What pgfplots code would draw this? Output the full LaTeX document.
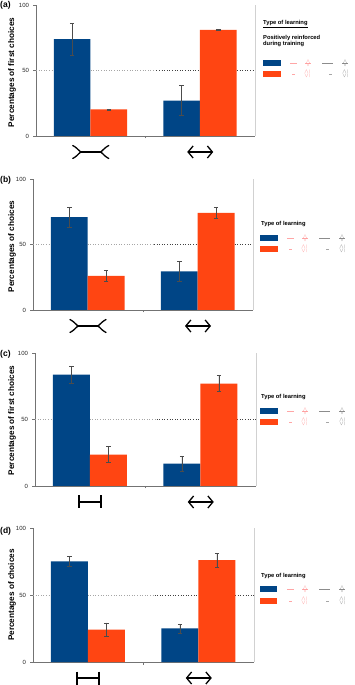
\documentclass[border=0pt]{standalone}
\usepackage{pgfplots}
\pgfplotsset{compat=1.18}
\usepackage{fontspec}
\setmainfont{Liberation Sans}
\usetikzlibrary{arrows.meta,calc}
\definecolor{myblue}{RGB}{0,69,134}
\definecolor{myorange}{RGB}{255,69,18}
\pgfplotsset{
  panel/.style={
    scale only axis, anchor=south west,
    xmin=0, xmax=2, ymin=0, ymax=100,
    axis x line*=bottom, axis y line*=left,
    axis line style={black!55, line width=0.6pt},
    ytick={0,50,100}, xtick={1}, xticklabels={},
    tick align=outside, major tick length=2.5pt,
    tick style={black!55, line width=0.5pt},
    yticklabel style={font=\fontsize{6}{7}\selectfont, text=black!85, xshift=-1pt},
    /pgf/number format/assume math mode=true,
    every axis y label/.style={at={(axis description cs:0,0.5)}, rotate=90, anchor=center,
       font=\bfseries\fontsize{8.2}{9}\selectfont},
    clip=false,
    ybar, bar width=0.335,
  },
  bl/.style={fill=myblue, draw=none, bar shift=0pt,
    error bars/.cd, y dir=both, y explicit,
    error bar style={black!70, line width=0.4pt},
    error mark options={rotate=90, mark size=2.2pt, black!70, line width=0.4pt}},
  orr/.style={fill=myorange, draw=none, bar shift=0pt,
    error bars/.cd, y dir=both, y explicit,
    error bar style={black!70, line width=0.4pt},
    error mark options={rotate=90, mark size=2.2pt, black!70, line width=0.4pt}},
}
\newcommand{\refline}{%
  \draw[black!35, dotted, line width=0.6pt] (axis cs:0,50) -- (axis cs:1.1,50);
  \draw[black!75, dotted, line width=0.6pt] (axis cs:1.1,50) -- (axis cs:2,50);
  \draw[black!18, line width=0.5pt] (rel axis cs:1,0) -- (rel axis cs:1,1);}
\newcommand{\fins}{%
  \begin{scope}[shift={(axis cs:0.5,0)}, yshift=-16pt, line width=1.3pt, line cap=round]
    \draw (-10pt,0) -- (10pt,0);
    \draw (-18pt,6.5pt) .. controls (-14pt,4.5pt) and (-12pt,1.5pt) .. (-10pt,0pt) .. controls (-12pt,-1.5pt) and (-14pt,-4.5pt) .. (-18pt,-6.5pt);
    \draw (18pt,6.5pt) .. controls (14pt,4.5pt) and (12pt,1.5pt) .. (10pt,0pt) .. controls (12pt,-1.5pt) and (14pt,-4.5pt) .. (18pt,-6.5pt);
  \end{scope}}
\newcommand{\hsym}{%
  \begin{scope}[shift={(axis cs:0.5,0)}, yshift=-16pt, line width=2pt]
    \draw (-11pt,0) -- (11pt,0);
    \draw (-11pt,6.5pt) -- (-11pt,-6.5pt);
    \draw (11pt,6.5pt) -- (11pt,-6.5pt);
  \end{scope}}
\newcommand{\darrow}{%
  \begin{scope}[shift={(axis cs:1.5,0)}, yshift=-16pt]
    \draw[line width=1.3pt, {Straight Barb[length=5pt,width=12pt]}-{Straight Barb[length=5pt,width=12pt]}] (-13pt,0) -- (13pt,0);
  \end{scope}}
\newcommand{\legkeys}[4]{%
  \fill[myblue] (#1,#2) rectangle ++(#4,6);
  \fill[myorange] (#1,#3) rectangle ++(#4,6);
  \draw[red!35, line width=0.5pt] ($(#1,#2)+(27,3)$) -- ++(7,0);
  \draw[red!35, line width=0.4pt] ($(#1,#2)+(42,3)$) -- ++(6,0);
  \node[text=red!45, rotate=90, inner sep=0, font=\fontsize{4}{4}\selectfont] at ($(#1,#2)+(45,3)$) {$<\!\!>$};
  \draw[black!45, line width=0.5pt] ($(#1,#2)+(59,3)$) -- ++(11,0);
  \draw[black!45, line width=0.4pt] ($(#1,#2)+(79,3)$) -- ++(6,0);
  \node[text=black!50, rotate=90, inner sep=0, font=\fontsize{4}{4}\selectfont] at ($(#1,#2)+(82,3)$) {$<\!\!>$};
  \draw[red!35, line width=0.5pt] ($(#1,#3)+(29,3)$) -- ++(3,0);
  \node[text=red!45, rotate=90, inner sep=0, font=\fontsize{4}{4}\selectfont] at ($(#1,#3)+(44,3)$) {$\leq\!\geq$};
  \draw[black!35, line width=0.5pt] ($(#1,#3)+(66,3)$) -- ++(3,0);
  \node[text=black!50, rotate=90, inner sep=0, font=\fontsize{4}{4}\selectfont] at ($(#1,#3)+(82,3)$) {$\leq\!\geq$};
}
\begin{document}
\begin{tikzpicture}[x=1pt,y=1pt]
\useasboundingbox (0,0) rectangle (354,685);
% (a)
\begin{axis}[panel, at={(36pt,549pt)}, width=219pt, height=131pt,
  ylabel={Percentages of first choices},
  every axis y label/.append style={yshift=24pt, xshift=-2pt}]
\refline
\addplot[bl] coordinates {(0.33,74) +- (0,12) (1.33,27) +- (0,11.5)};
\addplot[orr] coordinates {(0.665,20.3) +- (0,0.3) (1.665,81) +- (0,0.3)};
\fins \darrow
\end{axis}
% (b)
\begin{axis}[panel, at={(33pt,375pt)}, width=220pt, height=131pt,
  ylabel={Percentages of choices},
  every axis y label/.append style={yshift=21pt, xshift=-2pt}]
\refline
\addplot[bl] coordinates {(0.33,70.8) +- (0,7.6) (1.33,29.4) +- (0,7.8)};
\addplot[orr] coordinates {(0.665,26.1) +- (0,4.1) (1.665,74.1) +- (0,4)};
\fins \darrow
\end{axis}
% (c)
\begin{axis}[panel, at={(35pt,199pt)}, width=221pt, height=133pt,
  ylabel={Percentages of first choices},
  every axis y label/.append style={yshift=23pt, xshift=-1pt}]
\refline
\addplot[bl] coordinates {(0.33,83.8) +- (0,6.2) (1.33,16.8) +- (0,5.9)};
\addplot[orr] coordinates {(0.665,23.6) +- (0,6) (1.665,77) +- (0,6.1)};
\hsym \darrow
\end{axis}
% (d)
\begin{axis}[panel, at={(33pt,23pt)}, width=221pt, height=134pt,
  ylabel={Percentages of choices},
  every axis y label/.append style={yshift=21pt}]
\refline
\addplot[bl] coordinates {(0.33,75) +- (0,3.6) (1.33,25) +- (0,3.5)};
\addplot[orr] coordinates {(0.665,24.1) +- (0,5.2) (1.665,76.1) +- (0,5.1)};
\hsym \darrow
\end{axis}
% panel letters
\node[anchor=west, inner sep=0, font=\bfseries\fontsize{8.5}{9}\selectfont] at (0,680) {(a)};
\node[anchor=west, inner sep=0, font=\bfseries\fontsize{8.5}{9}\selectfont] at (0,505) {(b)};
\node[anchor=west, inner sep=0, font=\bfseries\fontsize{8.5}{9}\selectfont] at (0,331) {(c)};
\node[anchor=west, inner sep=0, font=\bfseries\fontsize{8.5}{9}\selectfont] at (0,154) {(d)};
% legends
\begin{scope}[font=\bfseries\fontsize{5.8}{6.5}\selectfont]
\node[anchor=west, inner sep=0] at (263,661) {\underline{Type of learning}};
\node[anchor=north west, inner sep=0, align=left] at (263,650) {Positively reinforced\\during training};
\legkeys{263}{619}{608}{18}
\node[anchor=west, inner sep=0] at (261,461) {Type of learning};
\legkeys{260}{444}{433}{18}
\node[anchor=west, inner sep=0] at (261,288) {Type of learning};
\legkeys{260}{271}{260}{18}
\node[anchor=west, inner sep=0] at (261,109) {Type of learning};
\legkeys{260}{93}{81}{17}
\end{scope}
\end{tikzpicture}
\end{document}
